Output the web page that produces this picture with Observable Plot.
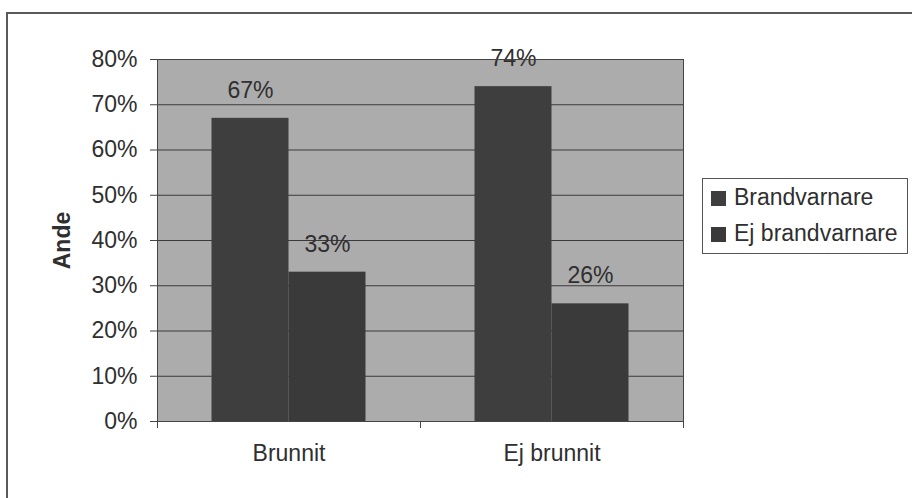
<!DOCTYPE html>
<html><head><meta charset="utf-8">
<script src="https://cdn.jsdelivr.net/npm/d3@7"></script>
<script src="https://cdn.jsdelivr.net/npm/@observablehq/plot@0.6"></script>
<style>
html,body{margin:0;padding:0;background:#fff;overflow:hidden;width:912px;height:498px}
#wrap{position:relative;width:912px;height:498px;font-family:"Liberation Sans",Arial,sans-serif}
.border{position:absolute;left:6px;top:12px;width:1000px;height:1000px;border-left:2px solid #5a5a5a;border-top:2px solid #5a5a5a}
.legend{position:absolute;left:702px;top:178px;width:206px;height:76px;border:1px solid #555;box-sizing:border-box;font-size:23px;color:#2f2f2f}
.item{position:absolute;left:8px;height:26px;line-height:26px;white-space:nowrap}
.sw{display:inline-block;width:15px;height:15px;margin-right:8px;vertical-align:-1px}
#chart{position:absolute;left:0;top:0}
</style></head>
<body><div id="wrap"><div class="border"></div><div id="chart"></div><div class="legend" id="legend"></div></div>
<script>
const categories = ["Brunnit", "Ej brunnit"];
const series = ["Brandvarnare", "Ej brandvarnare"];
const brandvarnare = [0.67, 0.74];
const ejBrandvarnare = [0.33, 0.26];
const yTicks = [0, 0.1, 0.2, 0.3, 0.4, 0.5, 0.6, 0.7, 0.8];
const colors = ["#3e3e3e", "#3a3a3a"];
const yLabel = "Ande";

const W = 912, H = 498, mL = 157, mR = 229, mT = 59, mB = 77;
const half = (W - mL - mR) / categories.length / 2;
const barW = 77;
const side = half - barW;
const fmt = d3.format(".0%");

const rows1 = categories.map((c, i) => ({category: c, series: series[0], value: brandvarnare[i]}));
const rows2 = categories.map((c, i) => ({category: c, series: series[1], value: ejBrandvarnare[i]}));

const chart = Plot.plot({
  width: W, height: H,
  marginLeft: mL, marginRight: mR, marginTop: mT, marginBottom: mB,
  style: {fontSize: "23px", fontFamily: "'Liberation Sans', Arial, sans-serif", color: "#2f2f2f", background: "transparent", overflow: "visible"},
  x: {type: "band", domain: categories, padding: 0},
  y: {domain: [0, 0.8]},
  marks: [
    Plot.frame({fill: "#acacac"}),
    Plot.gridY(yTicks, {stroke: "#3a3a3a", strokeOpacity: 1}),
    Plot.barY(rows1, {x: "category", y: "value", fill: colors[0], insetLeft: side, insetRight: half}),
    Plot.barY(rows2, {x: "category", y: "value", fill: colors[1], insetLeft: half, insetRight: side}),
    Plot.text(rows1, {x: "category", y: "value", text: d => fmt(d.value), dx: -barW / 2, dy: -28, fill: "#2f2f2f"}),
    Plot.text(rows2, {x: "category", y: "value", text: d => fmt(d.value), dx: barW / 2, dy: -28, fill: "#2f2f2f"}),
    Plot.frame({stroke: "#444"}),
    Plot.ruleX(categories, {x: d => d, y1: 0, y2: 0, insetBottom: -7, dx: -half, stroke: "#444"}),
    Plot.ruleX(categories.slice(-1), {x: d => d, y1: 0, y2: 0, insetBottom: -7, dx: half, stroke: "#444"}),
    Plot.axisY({ticks: yTicks, tickFormat: fmt, tickSize: 7, tickPadding: 13, label: null, stroke: "#444", fill: "#2f2f2f"}),
    Plot.axisX({tickSize: 0, tickPadding: 23, label: null, fill: "#2f2f2f"}),
    Plot.text([yLabel], {frameAnchor: "left", textAnchor: "middle", rotate: -90, dx: -95, fontWeight: "bold", fontSize: 23, fill: "#2f2f2f"})
  ]
});
document.getElementById("chart").appendChild(chart);

const leg = document.getElementById("legend");
series.forEach((s, i) => {
  const it = document.createElement("div");
  it.className = "item";
  it.style.top = (5 + i * 36) + "px";
  it.innerHTML = `<span class="sw" style="background:${colors[i]}"></span>${s}`;
  leg.appendChild(it);
});
</script></body></html>
